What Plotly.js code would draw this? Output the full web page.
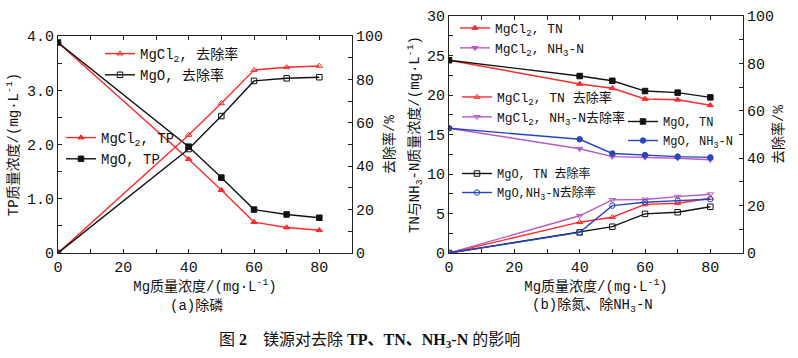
<!DOCTYPE html>
<html>
<head>
<meta charset="utf-8">
<script src="https://cdn.plot.ly/plotly-3.0.1.min.js"></script>
<style>html,body{margin:0;padding:0;background:#fff;}#chart{width:798px;height:358px;}</style>
</head>
<body>
<div id="chart"></div>
<script>
// ---- data ----
const mgDose = [0, 40, 50, 60, 70, 80];
// panel (a)
const tpMgCl2 = [3.88, 1.73, 1.16, 0.57, 0.47, 0.42];
const tpMgO = [3.88, 1.96, 1.39, 0.80, 0.71, 0.65];
const remTpMgCl2 = [0, 54.4, 69.0, 84.3, 85.6, 86.2];
const remTpMgO = [0, 47.9, 63.1, 79.3, 80.5, 81.0];
// panel (b)
const tnMgCl2 = [24.4, 21.4, 20.85, 19.5, 19.4, 18.7];
const nhMgCl2 = [15.8, 13.2, 12.2, 12.1, 12.0, 11.8];
const tnMgO = [24.4, 22.4, 21.8, 20.5, 20.3, 19.7];
const nhMgO = [15.8, 14.4, 12.6, 12.4, 12.2, 12.1];
const remTnMgCl2 = [0, 13.0, 15.1, 20.5, 21.0, 23.1];
const remNhMgCl2 = [0, 15.7, 22.4, 22.6, 23.8, 24.8];
const remTnMgO = [0, 8.7, 11.1, 16.5, 17.2, 19.5];
const remNhMgO = [0, 8.7, 20.0, 21.4, 22.1, 22.7];

const RED = '#ff2a2a', BLACK = '#111111', PURPLE = '#b45cc4', BLUE = '#2646c0';
const FONT = 'Liberation Mono, "Noto Sans CJK SC", monospace';

function tr(y, name, color, symbol, xa, ya, legend) {
  return {x: mgDose, y: y, name: name, type: 'scatter', mode: 'lines+markers',
    line: {color: color, width: 1.4}, marker: {color: color, symbol: symbol, size: 5.5, line: {color: color, width: 1}},
    xaxis: xa, yaxis: ya, legend: legend};
}

const data = [
  tr(remTpMgCl2, 'MgCl<sub>2</sub>, 去除率', RED, 'triangle-up-open', 'x', 'y2', 'legend'),
  tr(remTpMgO, 'MgO, 去除率', BLACK, 'square-open', 'x', 'y2', 'legend'),
  tr(tpMgCl2, 'MgCl<sub>2</sub>, TP', RED, 'triangle-up', 'x', 'y', 'legend2'),
  tr(tpMgO, 'MgO, TP', BLACK, 'square', 'x', 'y', 'legend2'),
  tr(tnMgCl2, 'MgCl<sub>2</sub>, TN', RED, 'triangle-up', 'x2', 'y3', 'legend3'),
  tr(nhMgCl2, 'MgCl<sub>2</sub>, NH<sub>3</sub>-N', PURPLE, 'triangle-down', 'x2', 'y3', 'legend3'),
  tr(remTnMgCl2, 'MgCl<sub>2</sub>, TN 去除率', RED, 'triangle-up-open', 'x2', 'y4', 'legend4'),
  tr(remNhMgCl2, 'MgCl<sub>2</sub>, NH<sub>3</sub>-N去除率', PURPLE, 'triangle-down-open', 'x2', 'y4', 'legend4'),
  tr(tnMgO, 'MgO, TN', BLACK, 'square', 'x2', 'y3', 'legend5'),
  tr(nhMgO, 'MgO, NH<sub>3</sub>-N', BLUE, 'circle', 'x2', 'y3', 'legend5'),
  tr(remTnMgO, 'MgO, TN 去除率', BLACK, 'square-open', 'x2', 'y4', 'legend6'),
  tr(remNhMgO, 'MgO,NH<sub>3</sub>-N去除率', BLUE, 'circle-open', 'x2', 'y4', 'legend6')
];

const W = 798, H = 358;
const px = v => v / W, py = v => 1 - v / H;

const axBase = {showgrid: false, zeroline: false, showline: true, linecolor: '#222', linewidth: 1,
  ticks: 'inside', ticklen: 4, tickcolor: '#222', tickfont: {family: FONT, size: 15, color: '#111'}};

function xax(domain, anchor) {
  return Object.assign({}, axBase, {domain: domain, anchor: anchor, range: [0, 90], tickvals: [0, 20, 40, 60, 80],
    ticktext: ['0', '20', '40', '60', '80'], mirror: 'ticks',
    minor: {dtick: 10, tick0: 0, ticks: 'inside', ticklen: 4, tickcolor: '#222'},
    title: {text: 'Mg质量浓度/(mg·L<sup>-1</sup>)', font: {family: FONT, size: 14, color: '#111'}, standoff: 0}});
}

const legBase = {bgcolor: 'rgba(0,0,0,0)', borderwidth: 0, xanchor: 'left', yanchor: 'top',
  font: {family: FONT, size: 14, color: '#111'}, itemwidth: 30, tracegroupgap: 0};
const legSmall = Object.assign({}, legBase, {font: {family: FONT, size: 13, color: '#111'}});
const legTiny = Object.assign({}, legBase, {font: {family: FONT, size: 12, color: '#111'}});

const layout = {
  width: W, height: H, margin: {l: 0, r: 0, t: 0, b: 0},
  paper_bgcolor: '#fff', plot_bgcolor: '#fff',
  font: {family: FONT, color: '#111'},
  xaxis: xax([px(58), px(352)], 'y'),
  yaxis: Object.assign({}, axBase, {domain: [py(253), py(36)], anchor: 'x', range: [0, 4],
    tickvals: [0, 1, 2, 3, 4], ticktext: ['0', '1.0', '2.0', '3.0', '4.0'],
    minor: {dtick: 0.5, tick0: 0, ticks: 'inside', ticklen: 4, tickcolor: '#222'},
    title: {text: 'TP质量浓度/(mg·L<sup>-1</sup>)', font: {family: FONT, size: 14, color: '#111'}, standoff: 5}}),
  yaxis2: Object.assign({}, axBase, {overlaying: 'y', anchor: 'x', side: 'right', range: [0, 100],
    tickvals: [0, 20, 40, 60, 80, 100],
    minor: {dtick: 10, tick0: 0, ticks: 'inside', ticklen: 4, tickcolor: '#222'},
    title: {text: '去除率/%', font: {family: FONT, size: 14, color: '#111'}, standoff: 2}}),
  xaxis2: xax([px(449), px(743)], 'y3'),
  yaxis3: Object.assign({}, axBase, {domain: [py(253), py(16)], anchor: 'x2', range: [0, 30],
    tickvals: [0, 5, 10, 15, 20, 25, 30],
    minor: {dtick: 2.5, tick0: 0, ticks: 'inside', ticklen: 4, tickcolor: '#222'},
    title: {text: 'TN与NH<sub>3</sub>-N质量浓度/(mg·L<sup>-1</sup>)', font: {family: FONT, size: 14, color: '#111'}, standoff: 4}}),
  yaxis4: Object.assign({}, axBase, {overlaying: 'y3', anchor: 'x2', side: 'right', range: [0, 100],
    tickvals: [0, 20, 40, 60, 80, 100],
    minor: {dtick: 10, tick0: 0, ticks: 'inside', ticklen: 4, tickcolor: '#222'},
    title: {text: '去除率/%', font: {family: FONT, size: 14, color: '#111'}, standoff: 0}}),
  legend: Object.assign({}, legBase, {x: px(100), y: py(38)}),
  legend2: Object.assign({}, legBase, {x: px(61), y: py(122)}),
  legend3: Object.assign({}, legSmall, {x: px(455), y: py(13)}),
  legend4: Object.assign({}, legSmall, {x: px(457), y: py(82)}),
  legend5: Object.assign({}, legTiny, {x: px(623), y: py(107)}),
  legend6: Object.assign({}, legTiny, {x: px(457), y: py(159)}),
  annotations: [
    {text: '(a)除磷', x: px(196), y: py(306), xref: 'paper', yref: 'paper', showarrow: false,
      xanchor: 'center', yanchor: 'middle', font: {family: FONT, size: 14, color: '#111'}},
    {text: '(b)除氮、除NH<sub>3</sub>-N', x: px(592), y: py(306), xref: 'paper', yref: 'paper', showarrow: false,
      xanchor: 'center', yanchor: 'middle', font: {family: FONT, size: 14, color: '#111'}},
    {text: '图 <b>2</b>    镁源对去除 <b>TP、TN、NH<sub>3</sub>-N</b> 的影响', x: px(369), y: py(340),
      xref: 'paper', yref: 'paper', showarrow: false, xanchor: 'center', yanchor: 'middle',
      font: {family: '"Liberation Serif", "Noto Sans CJK SC", serif', size: 16, color: '#111'}}
  ]
};

Plotly.newPlot('chart', data, layout, {staticPlot: true, displayModeBar: false});
</script>
</body>
</html>
